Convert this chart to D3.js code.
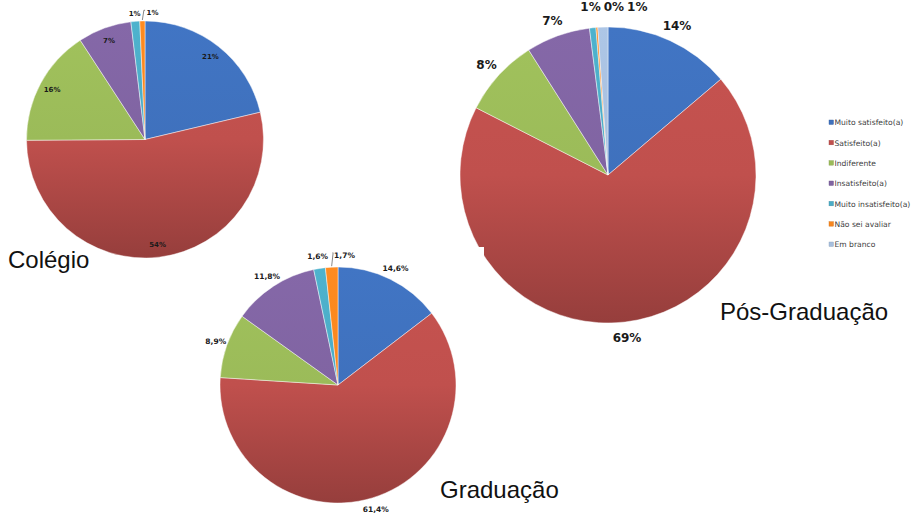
<!DOCTYPE html>
<html>
<head>
<meta charset="utf-8">
<script src="https://cdn.jsdelivr.net/npm/d3@7"></script>
<style>
  body { margin: 0; background: #fff; }
  svg { display: block; }
</style>
</head>
<body>
<div id="chart"></div>
<script>
// categories shared by the three pies
var categories = ["Muito satisfeito(a)", "Satisfeito(a)", "Indiferente", "Insatisfeito(a)",
                  "Muito insatisfeito(a)", "Não sei avaliar", "Em branco"];
var colors = ["#3f71bd", "#c0504d", "#9bbb59", "#8064a2", "#4bacc6", "#f7861f", "#a7bfde"];

var colegioValues = [21.3, 53.6, 15.9, 7.3, 1.2, 0.7, 0];
var colegioLabels = ["21%", "54%", "16%", "7%", "1%", "1%", ""];

var graduacaoValues = [14.6, 61.4, 8.9, 11.8, 1.6, 1.7, 0];
var graduacaoLabels = ["14,6%", "61,4%", "8,9%", "11,8%", "1,6%", "1,7%", ""];

var posValues = [13.8, 68.7, 8.5, 7.0, 0.7, 0.2, 1.1];
var posLabels = ["14%", "69%", "8%", "7%", "1%", "0%", "1%"];

var WIDTH = 916, HEIGHT = 515;

var svg = d3.select("#chart").append("svg")
    .attr("width", WIDTH)
    .attr("height", HEIGHT);

var defs = svg.append("defs");

var pie = d3.pie().sort(null).value(function (d) { return d; });

// measure text width for label collision
var measure = svg.append("text").attr("visibility", "hidden");
function textWidth(str, size) {
    measure.attr("font-family", "'DejaVu Sans', Verdana, sans-serif")
        .attr("font-weight", "bold")
        .attr("font-size", size)
        .text(str);
    return measure.node().getComputedTextLength();
}

function drawPie(id, values, labels, cx, cy, r, opts) {
    var g = svg.append("g").attr("transform", "translate(" + cx + "," + cy + ")");

    // vertical gradients (light top, dark bottom) over the whole pie
    colors.forEach(function (c, i) {
        var grad = defs.append("linearGradient")
            .attr("id", id + "-grad" + i)
            .attr("gradientUnits", "userSpaceOnUse")
            .attr("x1", 0).attr("y1", -r)
            .attr("x2", 0).attr("y2", r);
        grad.append("stop").attr("offset", "0%")
            .attr("stop-color", d3.color(c).brighter(0.1));
        grad.append("stop").attr("offset", "50%")
            .attr("stop-color", c);
        grad.append("stop").attr("offset", "100%")
            .attr("stop-color", d3.color(c).darker(0.7));
    });

    var arcs = pie(values);
    var arc = d3.arc().innerRadius(0).outerRadius(r);

    g.selectAll("path.slice")
        .data(arcs.filter(function (d) { return d.value > 0; }))
        .enter().append("path")
        .attr("class", "slice")
        .attr("d", arc)
        .style("fill", function (d) { return "url(#" + id + "-grad" + d.index + ")"; })
        .style("stroke", "#ffffff")
        .style("stroke-opacity", 0.45)
        .style("stroke-width", 1);

    // labels
    var prev = null;
    arcs.forEach(function (d, i) {
        if (!labels[i]) return;
        var mid = (d.startAngle + d.endAngle) / 2;
        var small = (d.value < 2);
        var lr = small ? opts.smallRadius * r : opts.labelRadius * r;
        var x = Math.sin(mid) * lr;
        var y = -Math.cos(mid) * lr;
        var w = textWidth(labels[i], opts.fontSize);
        var shifted = false;
        if (small && prev && prev.small && x - w / 2 < prev.x + prev.w / 2 + opts.gap) {
            x = prev.x + prev.w / 2 + opts.gap + w / 2;
            shifted = true;
        }
        if (shifted && opts.leader) {
            var ox = Math.sin(mid) * (r + 1), oy = -Math.cos(mid) * (r + 1);
            var lx = x - w / 2 - 1.5;
            g.append("polyline")
                .attr("points", [[ox, oy], [ox + 1.5, y - opts.fontSize * 0.35], [lx, y - opts.fontSize * 0.35]]
                    .map(function (p) { return p.join(","); }).join(" "))
                .style("fill", "none")
                .style("stroke", "#555")
                .style("stroke-width", 0.7);
        }
        g.append("text")
            .attr("x", x)
            .attr("y", y)
            .attr("dy", "0.35em")
            .attr("text-anchor", "middle")
            .attr("font-family", "'DejaVu Sans', Verdana, sans-serif")
            .attr("font-weight", "bold")
            .attr("font-size", opts.fontSize)
            .style("fill", "#1a1a1a")
            .text(labels[i]);
        prev = { x: x, w: w, small: small };
    });
    return g;
}

// Pós-Graduação (behind)
drawPie("pos", posValues, posLabels, 608, 175, 148,
    { fontSize: 12, labelRadius: 1.11, smallRadius: 1.14, gap: 3, leader: false });

// white panel of the Graduação picture overlapping the Pós pie
svg.append("rect")
    .attr("x", 200).attr("y", 247)
    .attr("width", 284).attr("height", HEIGHT - 247)
    .style("fill", "#ffffff");

drawPie("grad", graduacaoValues, graduacaoLabels, 338, 385, 118,
    { fontSize: 7.5, labelRadius: 1.1, smallRadius: 1.1, gap: 6, leader: true });

drawPie("col", colegioValues, colegioLabels, 145, 139.5, 118.5,
    { fontSize: 7, labelRadius: 0.89, smallRadius: 1.07, gap: 6, leader: true });

// titles
var titles = [
    { text: "Colégio", x: 8, y: 268 },
    { text: "Graduação", x: 440, y: 498 },
    { text: "Pós-Graduação", x: 720, y: 320 }
];
svg.selectAll("text.title")
    .data(titles)
    .enter().append("text")
    .attr("class", "title")
    .attr("x", function (d) { return d.x; })
    .attr("y", function (d) { return d.y; })
    .attr("font-family", "'Liberation Sans', Arial, Helvetica, sans-serif")
    .attr("font-size", 24)
    .style("fill", "#111")
    .text(function (d) { return d.text; });

// legend
var legendY = d3.scalePoint()
    .domain(categories)
    .range([122.5, 244.5]);

var legend = svg.append("g");
var items = legend.selectAll("g.item")
    .data(categories)
    .enter().append("g")
    .attr("class", "item")
    .attr("transform", function (d) { return "translate(829," + legendY(d) + ")"; });

items.append("rect")
    .attr("x", 0).attr("y", -2.5)
    .attr("width", 4.5).attr("height", 4.5)
    .style("fill", function (d, i) { return colors[i]; })
    .style("stroke", function (d, i) { return d3.color(colors[i]).darker(0.5); })
    .style("stroke-width", 0.4);

items.append("text")
    .attr("x", 5.5)
    .attr("y", 0)
    .attr("dy", "0.35em")
    .attr("font-family", "'DejaVu Sans', Verdana, sans-serif")
    .attr("font-size", 7.6)
    .style("fill", "#404040")
    .text(function (d) { return d; });

measure.remove();
</script>
</body>
</html>
